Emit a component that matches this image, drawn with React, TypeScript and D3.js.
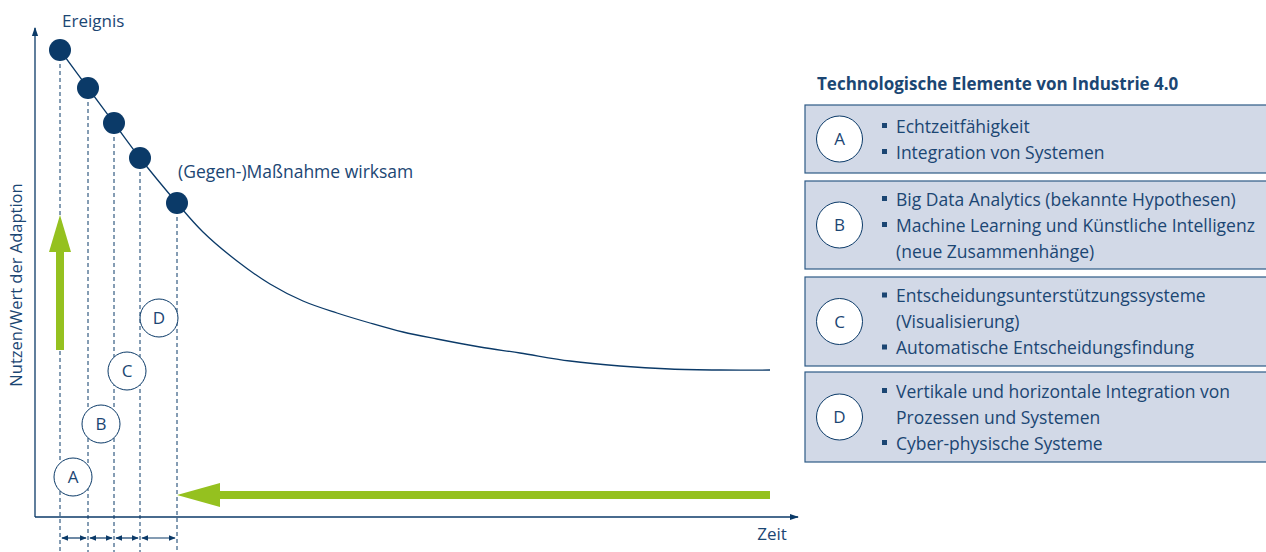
import React from "react";
import * as d3 from "d3";

// ---- data ----
// key events (time, value) - the dots on the curve
const eventTimes = [25, 53, 79, 105, 142];
const eventValues = [467, 429, 394, 359, 314];
// tail of the value curve after the counter-measure becomes effective
const tailTimes = [168, 202, 235, 268, 302, 335, 368, 402, 445, 485, 535, 585, 635, 685, 735];
const tailValues = [285, 256, 233, 216, 204, 194, 185, 178, 170, 164, 156, 151, 148, 147, 147];
// phase circles (letter, time, value)
const phaseLetters = ["A", "B", "C", "D"];
const phaseTimes = [38, 66, 92, 124];
const phaseValues = [40, 93, 146, 199];

const titleText = "Technologische Elemente von Industrie 4.0";
const boxLetters = ["A", "B", "C", "D"];
const boxLines: { text: string; bullet: boolean }[][] = [
  [
    { text: "Echtzeitfähigkeit", bullet: true },
    { text: "Integration von Systemen", bullet: true },
  ],
  [
    { text: "Big Data Analytics (bekannte Hypothesen)", bullet: true },
    { text: "Machine Learning und Künstliche Intelligenz", bullet: true },
    { text: "(neue Zusammenhänge)", bullet: false },
  ],
  [
    { text: "Entscheidungsunterstützungssysteme", bullet: true },
    { text: "(Visualisierung)", bullet: false },
    { text: "Automatische Entscheidungsfindung", bullet: true },
  ],
  [
    { text: "Vertikale und horizontale Integration von", bullet: true },
    { text: "Prozessen und Systemen", bullet: false },
    { text: "Cyber-physische Systeme", bullet: true },
  ],
];
const boxTops = [105, 181, 277, 372];
const boxBottoms = [173, 269, 366, 462];

const W = 1266;
const H = 552;
const NAVY = "#0b3a68";
const TEXT = "#1b4673";
const GREEN = "#95c11f";
const FONT = "'Open Sans', 'Noto Sans', sans-serif";
const FS = 17.5;

export default function App() {
  const x = d3.scaleLinear().domain([0, 763]).range([35, 798]);
  const y = d3.scaleLinear().domain([0, 489]).range([517, 28]);

  const curveData = [
    ...eventTimes.map((t, i) => [t, eventValues[i]] as [number, number]),
    ...tailTimes.map((t, i) => [t, tailValues[i]] as [number, number]),
  ];
  const line = d3
    .line<[number, number]>()
    .x((d) => x(d[0]))
    .y((d) => y(d[1]))
    .curve(d3.curveCatmullRom.alpha(0.5));

  const axisY0 = y(0);
  const lastX = x(eventTimes[eventTimes.length - 1]);
  const greenY = y(22);
  const tailEnd = x(tailTimes[tailTimes.length - 1]);
  const upX = x(eventTimes[0]);

  return (
    <svg
      width={W}
      height={H}
      style={{ position: "absolute", left: 0, top: 0, background: "#fff" }}
      fontFamily={FONT}
    >
      <defs>
        <marker id="axArrow" viewBox="0 0 10 10" refX="9" refY="5" markerWidth="7" markerHeight="7" orient="auto">
          <path d="M0,1.5 L10,5 L0,8.5 Z" fill={NAVY} />
        </marker>
        <marker id="smArrow" viewBox="0 0 10 10" refX="9" refY="5" markerWidth="6" markerHeight="6" orient="auto-start-reverse">
          <path d="M0,1 L10,5 L0,9 Z" fill={NAVY} />
        </marker>
      </defs>

      {/* axes */}
      <line x1={x(0)} y1={axisY0} x2={x(0)} y2={28} stroke={NAVY} strokeWidth={1.3} markerEnd="url(#axArrow)" />
      <line x1={x(0)} y1={axisY0} x2={x(763)} y2={axisY0} stroke={NAVY} strokeWidth={1.3} markerEnd="url(#axArrow)" />
      <text x={772} y={540} fontSize={17} fill={TEXT} textAnchor="middle">Zeit</text>
      <text
        transform={`translate(22,${285}) rotate(-90)`}
        fontSize={16.5}
        fill={TEXT}
        textAnchor="middle"
      >
        Nutzen/Wert der Adaption
      </text>

      {/* dashed verticals */}
      {eventTimes.map((t, i) => (
        <line key={"d" + i} x1={x(t)} x2={x(t)} y1={y(eventValues[i])} y2={H} stroke={NAVY} strokeWidth={1} strokeDasharray="4,3" />
      ))}

      {/* duration arrows */}
      {eventTimes.slice(0, -1).map((t, i) => (
        <line
          key={"a" + i}
          x1={x(t) + 2}
          x2={x(eventTimes[i + 1]) - 2}
          y1={538}
          y2={538}
          stroke={NAVY}
          strokeWidth={1.2}
          markerStart="url(#smArrow)"
          markerEnd="url(#smArrow)"
        />
      ))}

      {/* curve */}
      <path d={line(curveData) || ""} fill="none" stroke={NAVY} strokeWidth={1.3} />

      {/* green up arrow */}
      <rect x={upX - 4} y={250} width={8} height={100} fill={GREEN} />
      <path d={`M${upX - 11},252 L${upX},215 L${upX + 11},252 Z`} fill={GREEN} />

      {/* green left arrow */}
      <rect x={220} y={greenY - 4} width={tailEnd - 220} height={8} fill={GREEN} />
      <path d={`M${lastX},${greenY} L220,${greenY - 12} L220,${greenY + 12} Z`} fill={GREEN} />

      {/* dots */}
      {eventTimes.map((t, i) => (
        <circle key={"c" + i} cx={x(t)} cy={y(eventValues[i])} r={11} fill={NAVY} />
      ))}

      {/* phase circles */}
      {phaseLetters.map((l, i) => (
        <g key={"p" + i}>
          <circle cx={x(phaseTimes[i])} cy={y(phaseValues[i])} r={19} fill="#fff" stroke={NAVY} strokeWidth={1} />
          <text x={x(phaseTimes[i])} y={y(phaseValues[i]) + 6} fontSize={17} fill={TEXT} textAnchor="middle">{l}</text>
        </g>
      ))}

      <text x={62} y={27} fontSize={17} fill={TEXT}>Ereignis</text>
      <text x={178} y={178} fontSize={FS} fill={TEXT}>(Gegen-)Maßnahme wirksam</text>

      {/* right panel */}
      <text x={817} y={90} fontSize={17} fontWeight="bold" fill={TEXT}>{titleText}</text>
      {boxLetters.map((l, i) => {
        const top = boxTops[i];
        const bot = boxBottoms[i];
        const cy = (top + bot) / 2;
        const lines = boxLines[i];
        const n = lines.length;
        const spacing = 26;
        const first = cy - ((n - 1) * spacing) / 2;
        return (
          <g key={"b" + i}>
            <rect x={805} y={top} width={470} height={bot - top} fill="#d2d9e7" stroke="#2e5a86" strokeWidth={1.2} />
            <circle cx={839.5} cy={cy} r={23} fill="#fff" stroke={NAVY} strokeWidth={1} />
            <text x={839.5} y={cy + 6} fontSize={17} fill={TEXT} textAnchor="middle">{l}</text>
            {lines.map((ln, j) => (
              <g key={j}>
                {ln.bullet && <rect x={882} y={first + j * spacing - 3} width={5} height={5} fill={TEXT} />}
                <text x={896} y={first + j * spacing + 6.5} fontSize={FS} fill={TEXT}>{ln.text}</text>
              </g>
            ))}
          </g>
        );
      })}
    </svg>
  );
}
